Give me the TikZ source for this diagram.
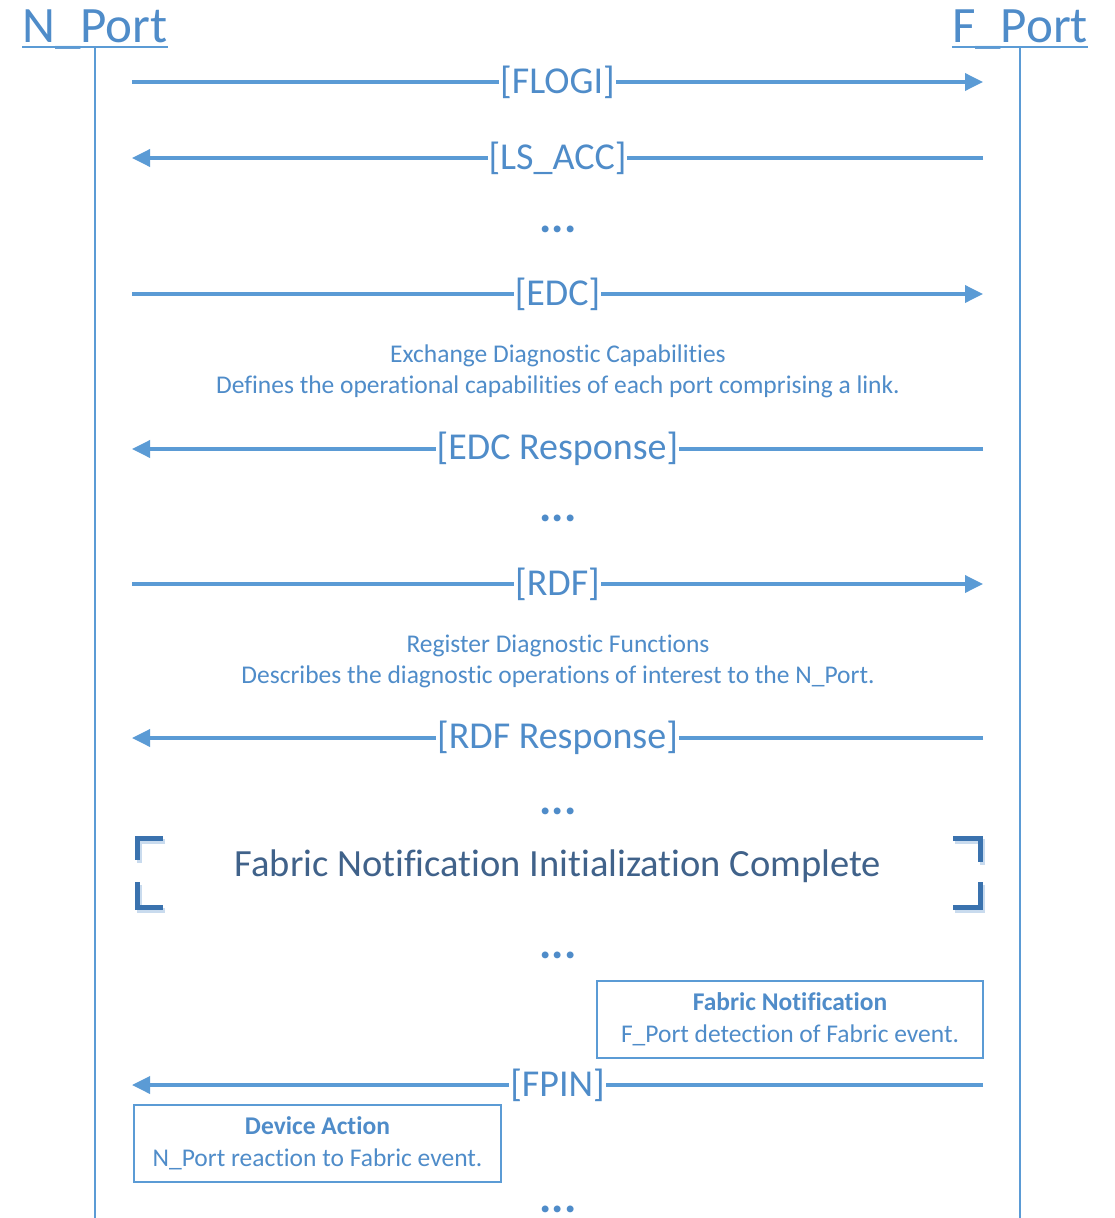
\documentclass[tikz,border=0pt]{standalone}
\usepackage{fontspec}
\setmainfont{Carlito}[Ligatures=NoCommon]
\usetikzlibrary{arrows.meta}
\definecolor{ln}{HTML}{5B9BD5}
\definecolor{tx}{HTML}{4F8CC9}
\definecolor{brk}{HTML}{3A72AE}
\definecolor{brkshadow}{HTML}{C9DBEE}
\definecolor{ttl}{HTML}{40628A}
\tikzset{
  hdr/.style={text=tx, inner sep=0pt, font=\fontsize{51}{58}\selectfont},
  life/.style={draw=ln, line width=2pt},
  msg/.style={draw=ln, line width=3.5pt, -{Triangle[length=18pt,width=17pt]}},
  lbl/.style={fill=white, text=tx, inner sep=1pt, font=\fontsize{38}{44}\selectfont},
  note/.style={text=tx, align=center, font=\fontsize{25.5}{31}\selectfont},
  dots/.style={text=tx, anchor=base, inner sep=0pt, text height=6pt, text depth=0pt, font=\fontsize{46}{46}\bfseries\selectfont},
  box/.style={draw=ln, line width=2pt, text=tx, align=center, font=\fontsize{25.5}{32}\selectfont},
  brkt/.style={draw=brk, line width=5pt},
  brkts/.style={draw=brkshadow, line width=5pt},
  ttlstyle/.style={text=ttl, font=\fontsize{38.5}{44}\selectfont}
}
\begin{document}
\begin{tikzpicture}[x=1pt,y=-1pt]
\useasboundingbox[fill=white] (0,0) rectangle (1115,1218);
% headers
\node[hdr, anchor=base] (np) at (95,42) {N\_Port};
\node[hdr, anchor=base] (fp) at (1020,42) {F\_Port};
\draw[ln, line width=2pt] ([yshift=-5pt]np.base west) -- ([yshift=-5pt]np.base east);
\draw[ln, line width=2pt] ([yshift=-5pt]fp.base west) -- ([yshift=-5pt]fp.base east);
\coordinate (ntop) at (95,47);
\coordinate (nbot) at (95,1218);
\coordinate (ftop) at (1020,47);
\coordinate (fbot) at (1020,1218);
\draw[life] (ntop) -- (nbot);
\draw[life] (ftop) -- (fbot);
% message end points
\foreach \n/\y in {1/82,2/158,3/294,4/449,5/584,6/738,7/1085}{
  \coordinate (L\n) at (132,\y);
  \coordinate (R\n) at (983,\y);
}
\draw[msg] (L1) -- node[lbl] {[FLOGI]} (R1);
\draw[msg] (R2) -- node[lbl] {[LS\_ACC]} (L2);
\node[dots] (d1) at (558,232) {...};
\draw[msg] (L3) -- node[lbl] {[EDC]} (R3);
\node[note] (n1) at (558,371) {Exchange Diagnostic Capabilities\\Defines the operational capabilities of each port comprising a link.};
\draw[msg] (R4) -- node[lbl] {[EDC Response]} (L4);
\node[dots] (d2) at (558,521) {...};
\draw[msg] (L5) -- node[lbl] {[RDF]} (R5);
\node[note] (n2) at (558,661) {Register Diagnostic Functions\\Describes the diagnostic operations of interest to the N\_Port.};
\draw[msg] (R6) -- node[lbl] {[RDF Response]} (L6);
\node[dots] (d3) at (558,814) {...};
% brackets
\begin{scope}[shift={(2,3)}]
\draw[brkts] (163,838) -- (137.5,838) -- (137.5,860);
\draw[brkts] (137.5,882) -- (137.5,907.5) -- (163,907.5);
\draw[brkts] (953,838) -- (980.5,838) -- (980.5,862);
\draw[brkts] (980.5,882) -- (980.5,907.5) -- (953,907.5);
\end{scope}
\draw[brkt] (163,838) -- (137.5,838) -- (137.5,860);
\draw[brkt] (137.5,882) -- (137.5,907.5) -- (163,907.5);
\draw[brkt] (953,838) -- (980.5,838) -- (980.5,862);
\draw[brkt] (980.5,882) -- (980.5,907.5) -- (953,907.5);
\node[ttlstyle] (title) at (558,866) {Fabric Notification Initialization Complete};
\node[dots] (d4) at (558,958) {...};
\node[box, minimum width=386pt, minimum height=77pt, inner sep=0pt] (fn) at (790,1019.5) {\textbf{Fabric Notification}\\F\_Port detection of Fabric event.};
\draw[msg] (R7) -- node[lbl] {[FPIN]} (L7);
\node[box, minimum width=367pt, minimum height=77pt, inner sep=0pt] (da) at (317.5,1143.5) {\textbf{Device Action}\\N\_Port reaction to Fabric event.};
\node[dots] (d5) at (558,1212) {...};
\end{tikzpicture}
\end{document}
